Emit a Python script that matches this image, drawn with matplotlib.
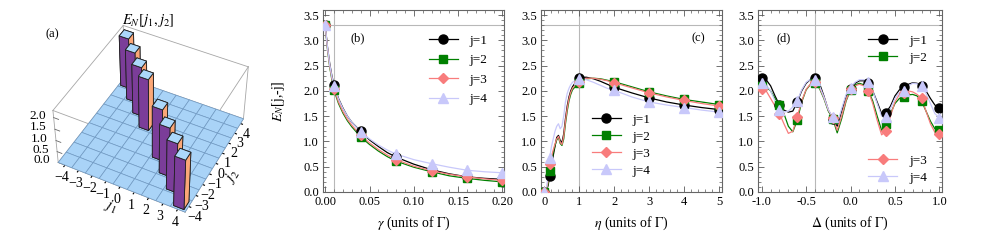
import numpy as np
import matplotlib
matplotlib.use('Agg')
import matplotlib.pyplot as plt
from matplotlib.ticker import MultipleLocator, FormatStrFormatter
from matplotlib.transforms import IdentityTransform
from mpl_toolkits.mplot3d import proj3d

plt.rcParams['font.family'] = ['Liberation Serif', 'DejaVu Serif']
plt.rcParams['mathtext.fontset'] = 'stix'

# ---------------- data ----------------
# (a) bars at [j, -j]
bar_j = [-4, -3, -2, -1, 1, 2, 3, 4]
bar_h = [2.2, 2.18, 2.15, 2.25, 2.25, 2.15, 2.18, 2.2]
z_ticks = [0.0, 0.5, 1.0, 1.5, 2.0]

labels = ['j=1', 'j=2', 'j=3', 'j=4']
colors = ['black', '#008000', '#f87c7c', '#c8c8fa']
markers = ['o', 's', 'D', '^']
msizes = [6.5, 6, 5, 6.5]

# (b) gamma
gamma_pts = [0, 0.01, 0.04, 0.08, 0.12, 0.16, 0.20]
b_pts = [
    [3.3, 2.11, 1.20, 0.69, 0.44, 0.30, 0.25],
    [3.3, 2.01, 1.09, 0.61, 0.40, 0.27, 0.20],
    [3.3, 2.04, 1.12, 0.64, 0.42, 0.30, 0.23],
    [3.3, 2.09, 1.19, 0.75, 0.56, 0.43, 0.38],
]
gamma_line = [0, 0.0025, 0.005, 0.0075, 0.01, 0.015, 0.02, 0.025, 0.03, 0.04,
              0.05, 0.06, 0.07, 0.08, 0.1, 0.12, 0.14, 0.16, 0.18, 0.2]
b_line = [
    [3.3, 2.88, 2.55, 2.30, 2.11, 1.85, 1.66, 1.50, 1.38, 1.20,
     1.03, 0.90, 0.78, 0.69, 0.55, 0.44, 0.36, 0.30, 0.27, 0.25],
    [3.3, 2.83, 2.48, 2.22, 2.01, 1.75, 1.56, 1.41, 1.29, 1.09,
     0.94, 0.81, 0.70, 0.61, 0.49, 0.40, 0.32, 0.27, 0.23, 0.20],
    [3.3, 2.85, 2.50, 2.25, 2.04, 1.78, 1.59, 1.44, 1.32, 1.12,
     0.97, 0.84, 0.73, 0.64, 0.51, 0.42, 0.35, 0.30, 0.26, 0.23],
    [3.3, 2.87, 2.53, 2.28, 2.09, 1.84, 1.65, 1.50, 1.38, 1.19,
     1.05, 0.93, 0.83, 0.75, 0.64, 0.56, 0.49, 0.43, 0.40, 0.38],
]

# (c) eta
eta_pts = [0, 0.15, 1, 2, 3, 4, 5]
c_pts = [
    [0, 0.31, 2.26, 2.07, 1.86, 1.72, 1.63],
    [0, 0.41, 2.16, 2.18, 1.98, 1.83, 1.73],
    [0, 0.56, 2.18, 2.16, 1.96, 1.81, 1.70],
    [0, 0.68, 2.23, 2.01, 1.78, 1.67, 1.58],
]
eta_line = [0, 0.05, 0.1, 0.15, 0.2, 0.25, 0.3, 0.35, 0.4, 0.45, 0.5, 0.55,
            0.6, 0.65, 0.7, 0.75, 0.8, 0.9, 1.0, 1.1, 1.2, 1.4, 1.6, 1.8,
            2.0, 2.5, 3, 3.5, 4, 4.5, 5]
c_line = [
    [0, 0.02, 0.12, 0.31, 0.52, 0.72, 0.90, 1.08, 1.12, 1.02, 0.98, 1.15,
     1.45, 1.70, 1.88, 2.00, 2.08, 2.18, 2.25, 2.27, 2.27, 2.24, 2.19, 2.13,
     2.07, 1.96, 1.86, 1.78, 1.72, 1.67, 1.63],
    [0, 0.02, 0.15, 0.41, 0.60, 0.78, 0.92, 1.03, 1.08, 0.96, 0.92, 1.05,
     1.35, 1.60, 1.80, 1.93, 2.02, 2.10, 2.16, 2.21, 2.24, 2.25, 2.24, 2.21,
     2.18, 2.08, 1.98, 1.90, 1.83, 1.78, 1.73],
    [0, 0.03, 0.20, 0.56, 0.70, 0.83, 0.95, 1.05, 1.10, 0.98, 0.94, 1.10,
     1.40, 1.65, 1.84, 1.97, 2.05, 2.13, 2.18, 2.23, 2.25, 2.25, 2.23, 2.20,
     2.16, 2.06, 1.96, 1.88, 1.81, 1.75, 1.70],
    [0, 0.05, 0.30, 0.68, 0.90, 1.05, 1.20, 1.30, 1.35, 1.25, 1.30, 1.50,
     1.78, 1.95, 2.05, 2.12, 2.17, 2.21, 2.23, 2.24, 2.22, 2.17, 2.11, 2.05,
     2.01, 1.88, 1.78, 1.72, 1.67, 1.62, 1.58],
]

# (d) Delta
delta_pts = [-1, -0.8, -0.6, -0.4, -0.2, 0, 0.2, 0.4, 0.6, 0.8, 1]
d_pts = [
    [2.26, 1.72, 1.78, 2.25, 1.45, 2.03, 2.15, 1.57, 2.07, 2.09, 1.66],
    [2.10, 1.73, 1.42, 2.15, 1.45, 2.02, 2.00, 1.34, 1.87, 1.80, 1.22],
    [2.04, 1.55, 1.49, 2.17, 1.47, 2.03, 2.00, 1.21, 1.95, 1.85, 1.14],
    [2.15, 1.62, 1.80, 2.22, 1.48, 2.05, 2.17, 1.49, 2.00, 2.09, 1.47],
]
delta_line = [-1.0, -0.95, -0.9, -0.85, -0.8, -0.75, -0.7, -0.65, -0.6, -0.55,
              -0.5, -0.45, -0.4, -0.35, -0.3, -0.25, -0.2, -0.15, -0.1, -0.05,
              0.0, 0.05, 0.1, 0.15, 0.2, 0.25, 0.3, 0.35, 0.4, 0.45,
              0.5, 0.55, 0.6, 0.65, 0.7, 0.75, 0.8, 0.85, 0.9, 0.95, 1.0]
d_line = [
    [2.26, 2.22, 2.10, 1.90, 1.72, 1.62, 1.58, 1.60, 1.78, 2.00,
     2.15, 2.23, 2.25, 2.15, 1.90, 1.62, 1.45, 1.30, 1.60, 1.90,
     2.03, 2.15, 2.20, 2.20, 2.15, 2.00, 1.78, 1.55, 1.57, 1.70,
     1.90, 2.02, 2.07, 2.13, 2.16, 2.15, 2.09, 2.00, 1.85, 1.72, 1.66],
    [2.10, 2.08, 2.00, 1.85, 1.73, 1.55, 1.30, 1.19, 1.42, 1.78,
     2.02, 2.13, 2.15, 2.05, 1.85, 1.60, 1.45, 1.17, 1.45, 1.80,
     2.02, 2.12, 2.15, 2.12, 2.00, 1.80, 1.50, 1.22, 1.34, 1.55,
     1.75, 1.85, 1.87, 1.92, 1.93, 1.90, 1.80, 1.60, 1.40, 1.25, 1.22],
    [2.04, 2.00, 1.85, 1.70, 1.55, 1.35, 1.16, 1.20, 1.49, 1.80,
     2.03, 2.14, 2.17, 2.07, 1.87, 1.62, 1.47, 1.22, 1.50, 1.82,
     2.03, 2.10, 2.13, 2.10, 2.00, 1.75, 1.42, 1.13, 1.21, 1.50,
     1.78, 1.93, 1.95, 2.00, 1.98, 1.93, 1.85, 1.60, 1.35, 1.18, 1.14],
    [2.15, 2.12, 2.00, 1.80, 1.62, 1.58, 1.60, 1.68, 1.80, 2.02,
     2.17, 2.23, 2.22, 2.10, 1.88, 1.63, 1.48, 1.35, 1.65, 1.93,
     2.05, 2.17, 2.22, 2.22, 2.17, 2.00, 1.75, 1.50, 1.49, 1.65,
     1.85, 1.97, 2.00, 2.10, 2.15, 2.14, 2.09, 1.95, 1.75, 1.55, 1.47],
]

fig = plt.figure(figsize=(9.81, 2.46), dpi=100)

# ---------------- (a) 3D bars ----------------
ax3 = fig.add_axes([0.03, 0.03, 0.245, 0.98], projection='3d', computed_zorder=False)
ax3.set_proj_type('persp', focal_length=0.75)
ax3.view_init(elev=45, azim=-63)
ax3.set_box_aspect((1, 1, 0.52), zoom=0.86)
ax3.set_xlim(-4.5, 4.5)
ax3.set_ylim(-4.5, 4.5)
ax3.set_zlim(0, 2.3)
for a in (ax3.xaxis, ax3.yaxis, ax3.zaxis):
    a.set_pane_color((1, 1, 1, 0))
    a.pane.set_edgecolor((1, 1, 1, 0))
    a.line.set_linewidth(0)
    a.offsetText.set_visible(False)
ax3.zaxis.label.set_visible(False)
ax3.grid(False)

# box edges
xl, yl, zl = ax3.get_xlim(), ax3.get_ylim(), ax3.get_zlim()
for y0 in yl:
    for z0 in zl:
        ax3.plot(xl, [y0, y0], [z0, z0], color='0.65', lw=0.6, zorder=1)
for x0 in xl:
    for z0 in zl:
        ax3.plot([x0, x0], yl, [z0, z0], color='0.65', lw=0.6, zorder=1)
for x0 in xl:
    for y0 in yl:
        ax3.plot([x0, x0], [y0, y0], zl, color='0.65', lw=0.6, zorder=1)

# floor
gx = np.arange(-4.5, 5.0, 1.0)
GX, GY = np.meshgrid(gx, gx)
ax3.plot_surface(GX, GY, np.zeros_like(GX), color='#a9d3f7', edgecolor='#7099c2',
                 linewidth=0.5, shade=False, zorder=2)

bw = 0.7
bx = np.array(bar_j, dtype=float) - bw / 2
by = -np.array(bar_j, dtype=float) - bw / 2
face_cols = []
for _ in bar_j:
    # -z, +z, -y, +y, -x, +x
    face_cols += ['#7b3d99', '#acd8fb', '#7b3d99', '#7b3d99', '#7b3d99', '#fba777']
ax3.bar3d(bx, by, np.zeros(len(bar_j)), bw, bw, bar_h, color=face_cols,
          edgecolor='#202020', linewidth=0.6, shade=False, zorder=3)

ax3.set_xticks(range(-4, 5))
ax3.set_yticks(range(-4, 5))
ax3.set_zticks([])
ax3.tick_params(axis='both', labelsize=10, pad=-4)
ax3.set_xlabel(r'$j_1$', fontsize=11, labelpad=-9)
ax3.set_ylabel(r'$j_2$', fontsize=11, labelpad=-9)
# z ticks on the left vertical edge
for zt in z_ticks:
    ax3.plot([xl[0], xl[0] + 0.35], [yl[0], yl[0]], [zt, zt], color='0.4', lw=0.6, zorder=1)
fig.canvas.draw()
for zt in z_ticks:
    px, py, _ = proj3d.proj_transform(xl[0], yl[0], zt, ax3.get_proj())
    dx, dy = ax3.transData.transform((px, py))
    fig.text(dx - 8, dy + 2, '%.1f' % zt, fontsize=9.5, ha='right', va='center',
             transform=IdentityTransform())
fig.text(0.151, 0.902, r'$E_N[j_1,j_2]$', fontsize=10.5, ha='center')
fig.text(0.046, 0.85, '(a)', fontsize=9)

# ---------------- line panels ----------------
def style(ax, xmajor, xminor):
    ax.set_ylim(0, 3.6)
    ax.yaxis.set_major_locator(MultipleLocator(0.5))
    ax.yaxis.set_minor_locator(MultipleLocator(0.1))
    ax.xaxis.set_major_locator(MultipleLocator(xmajor))
    ax.xaxis.set_minor_locator(MultipleLocator(xminor))
    ax.tick_params(which='both', direction='in', top=True, right=True,
                   labelsize=9, colors='0.35', labelcolor='black', pad=3)
    ax.tick_params(which='major', length=4, width=0.6)
    ax.tick_params(which='minor', length=2, width=0.5)
    for s in ax.spines.values():
        s.set_color('0.4')
        s.set_linewidth(0.8)
    ax.axhline(3.3, color='0.72', lw=0.8, zorder=0)
    ax.yaxis.set_major_formatter(FormatStrFormatter('%.1f'))

axb = fig.add_axes([323 / 981, 54 / 246, 181 / 981, 182 / 246])
axc = fig.add_axes([541 / 981, 54 / 246, 181 / 981, 182 / 246])
axd = fig.add_axes([758 / 981, 54 / 246, 184 / 981, 182 / 246])

for ax, xp, pts, xl_, ln in [(axb, gamma_pts, b_pts, gamma_line, b_line),
                              (axc, eta_pts, c_pts, eta_line, c_line),
                              (axd, delta_pts, d_pts, delta_line, d_line)]:
    for k in range(4):
        ax.plot(xl_, ln[k], color=colors[k], lw=0.9, zorder=2 + k)
    for k in range(4):
        ax.plot(xp, pts[k], linestyle='none', marker=markers[k], ms=msizes[k],
                color=colors[k], zorder=6 + k)

style(axb, 0.05, 0.01)
axb.set_xlim(-0.0025, 0.2017)
axb.xaxis.set_major_formatter(FormatStrFormatter('%.2f'))
axb.axvline(0.01, color='0.72', lw=0.8, zorder=0)
axb.set_xlabel(r'$\gamma$ (units of $\Gamma$)', fontsize=10, labelpad=5)
axb.set_ylabel(r'$E_N$[j,-j]', fontsize=10)
axb.yaxis.set_label_coords(-0.2, 0.5)
axb.text(0.15, 0.83, '(b)', transform=axb.transAxes, fontsize=9)

style(axc, 1, 0.2)
axc.set_xlim(-0.1, 5.08)
axc.xaxis.set_major_formatter(FormatStrFormatter('%d'))
axc.axvline(1, color='0.72', lw=0.8, zorder=0)
axc.set_xlabel(r'$\eta$ (units of $\Gamma$)', fontsize=10, labelpad=5)
axc.text(0.83, 0.83, '(c)', transform=axc.transAxes, fontsize=9)

style(axd, 0.5, 0.1)
axd.set_xlim(-1.042, 1.03)
axd.xaxis.set_major_formatter(FormatStrFormatter('%.1f'))
axd.axvline(-0.4, color='0.72', lw=0.8, zorder=0)
axd.set_xlabel(r'$\Delta$ (units of $\Gamma$)', fontsize=10, labelpad=5)
axd.text(0.1, 0.83, '(d)', transform=axd.transAxes, fontsize=9)

# legends
def handles(ax, idx):
    return [ax.plot([], [], color=colors[k], lw=0.9, marker=markers[k], ms=msizes[k])[0]
            for k in idx]

legkw = dict(frameon=False, fontsize=9.5, handlelength=2.2, handletextpad=0.9,
             borderpad=0, borderaxespad=0)
axb.legend(handles(axb, range(4)), labels, loc='upper left',
           bbox_to_anchor=(0.585, 0.865), labelspacing=0.55, **legkw)
axc.legend(handles(axc, range(4)), labels, loc='upper left',
           bbox_to_anchor=(0.28, 0.43), labelspacing=0.35, **legkw)
l1 = axd.legend(handles(axd, [0, 1]), labels[:2], loc='upper left',
                bbox_to_anchor=(0.6, 0.865), labelspacing=0.35, **legkw)
axd.add_artist(l1)
axd.legend(handles(axd, [2, 3]), labels[2:], loc='upper left',
           bbox_to_anchor=(0.6, 0.205), labelspacing=0.35, **legkw)

fig.savefig('out.png', dpi=100)
